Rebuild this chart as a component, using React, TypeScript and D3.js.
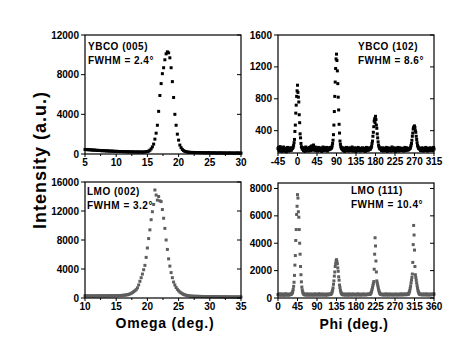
import * as d3 from 'd3'

// omega scans, sampled every 0.2 deg
const ybcoOmegaStart = 5
const ybcoOmegaStep = 0.2
const ybcoOmegaInt = [
  460, 440, 450, 420, 430, 410, 400, 390, 400, 370, 360, 370, 350, 340, 330, 340, 320, 310, 320, 300, 290, 300, 280, 280, 270,
  260, 270, 250, 250, 240, 250, 230, 240, 230, 220, 230, 220, 210, 220, 210, 200, 210, 200, 200, 210, 200, 190, 200, 210, 230,
  250, 290, 380, 520, 720, 1000, 1500, 2100, 2900, 4300, 5900, 7100, 8100, 8700, 9500, 10100, 10300, 10200, 9700, 8700,
  7300, 5700, 4000, 2900, 2000, 1400, 900, 640, 460, 340, 270, 230, 200, 180, 170,
  160, 150, 160, 150, 140, 150, 140, 130, 140, 130, 130, 120, 130, 120, 140, 120, 110, 120, 110, 120,
  110, 100, 110, 120, 100, 110, 100, 100, 110, 90, 100, 110, 100, 90, 100, 90, 100, 110, 90, 100, 90,
]

const lmoOmegaStart = 10
const lmoOmegaStep = 0.2
const lmoOmegaInt = [
  300, 290, 300, 280, 290, 300, 290, 280, 290, 300, 290, 300, 290, 300, 310, 300, 290, 300, 310, 300,
  310, 320, 310, 320, 310, 330, 320, 340, 330, 350, 360, 380, 400, 420, 450,
  500, 560, 640, 740, 870, 1000, 1150, 1400, 1800, 2300, 2800, 3300, 3900, 4500, 5600,
  6900, 8200, 9400, 10800, 11900, 12900, 14900, 14200, 13500, 14000, 13400, 13300, 12200, 11000, 9600,
  8000, 6700, 5400, 4400, 3500, 2800, 2200, 1800, 1450, 1200, 1000, 830, 700, 590, 500, 430, 380, 340, 310, 280, 260,
  250, 240, 230, 240, 220, 230, 210, 220, 200, 210, 200, 190, 200, 190, 180, 190, 180, 190, 170, 180,
  170, 180, 170, 160, 170, 160, 170, 160, 150, 160, 150, 160, 150, 140, 150, 140, 150, 140, 150, 140,
]

// phi scans, sampled every 1 deg
const ybcoPhiStart = -45
const ybcoPhiStep = 1
const ybcoPhiInt = [
  175, 190, 160, 145, 180, 200, 165, 150, 170, 140, 185, 160, 155, 195, 170, 145, 160, 180, 150, 135,
  175, 165, 190, 155, 145, 170, 160, 185, 150, 165, 175, 155, 180,
  175, 185, 195, 215, 250, 290, 390, 470, 620, 720, 830, 900, 970, 880, 820, 760, 600, 500, 360, 310, 240, 200, 190, 170, 180,
  165, 150, 185, 170, 140, 160, 195, 175, 150, 165, 180, 155, 145, 170, 190, 160, 175, 150, 200, 165,
  210, 180, 155, 170, 220, 185, 160, 175, 195, 150, 165, 180, 160, 145, 175, 190, 155, 170, 160, 185,
  150, 165, 175, 140, 160, 180, 195, 165, 150, 170, 185, 160, 175, 155, 190, 165, 145, 180, 170, 160,
  175, 185, 165, 190, 180,
  180, 190, 210, 240, 280, 350, 470, 640, 830, 1010, 1180, 1300, 1360, 1280, 1150, 990, 820, 660, 480, 370, 270, 230, 200, 185, 175,
  170, 160, 185, 150, 175, 165, 140, 180, 155, 170, 190, 160, 150, 175, 165, 145, 185, 170, 155, 160,
  180, 150, 170, 195, 160, 145, 175, 165, 150, 185, 160, 175, 140, 165, 180, 155, 170, 190, 150, 165,
  175, 160, 145, 180, 170, 155, 165, 185, 150, 170, 160, 180, 155, 140, 175, 165, 190, 150, 170, 160,
  175, 155, 185, 165, 170,
  170, 180, 190, 205, 240, 270, 330, 380, 450, 520, 550, 500, 580, 540, 470, 430, 360, 310, 260, 220, 200, 185, 175, 170, 180,
  165, 150, 175, 185, 160, 145, 170, 155, 180, 165, 150, 175, 190, 160, 140, 170, 185, 155, 165, 150,
  175, 160, 180, 145, 170, 195, 155, 165, 150, 175, 185, 160, 170, 140, 155, 180, 165, 150, 175, 190,
  160, 145, 170, 185, 155, 165, 175, 150, 160, 180, 170, 155, 145, 175, 165, 190, 160, 150, 170, 185,
  160, 175, 155, 165, 170,
  170, 175, 180, 195, 215, 240, 280, 330, 370, 420, 445, 430, 460, 440, 400, 380, 330, 290, 250, 215, 200, 185, 175, 180, 170,
  165, 150, 175, 160, 185, 155, 170, 145, 180, 165, 150, 175, 160, 190, 155, 170, 165, 145, 180, 160,
  175, 150, 165, 185, 160, 170, 155, 180, 165, 150, 175, 190, 170,
]

const lmoPhiStart = 0
const lmoPhiStep = 1
const lmoPhiInt = [
  260, 240, 280, 220, 250, 300, 230, 210, 270, 250, 220, 290, 240, 260, 200, 270, 250, 230, 310, 240,
  220, 260, 280, 230, 250, 210, 270, 240, 260, 290, 250,
  300, 330, 380, 470, 620, 850, 1150, 1650, 2400, 3100, 4200, 5000, 6100, 6700, 7550, 7300, 6300, 5900, 5000, 4000,
  3200, 2300, 1700, 1180, 800, 590, 440, 350, 300,
  270, 240, 260, 220, 280, 250, 230, 300, 240, 260, 210, 270, 250, 230, 290, 240, 220, 260, 280, 230,
  250, 270, 210, 260, 240, 300, 230, 250, 270, 220, 260, 240, 280, 230, 250, 310, 240, 220, 270, 250,
  230, 260, 290, 240, 220, 270, 250, 230, 280, 260, 240, 210, 270, 250, 230, 290, 260, 240, 270, 250,
  280, 260,
  290, 310, 360, 450, 580, 740, 1000, 1250, 1600, 1900, 2300, 2500, 2700, 2800, 2650, 2500, 2200, 1950, 1550, 1300,
  950, 760, 560, 440, 360, 310, 280,
  260, 240, 270, 230, 250, 290, 220, 260, 240, 280, 250, 230, 270, 210, 260, 300, 240, 250, 230, 270,
  260, 220, 280, 250, 240, 290, 230, 260, 250, 270, 240, 220, 260, 280, 230, 250, 300, 240, 260, 230,
  270, 250, 220, 260, 280, 240, 250, 230, 290, 260, 240, 270, 250, 230, 260, 280, 240, 260, 250, 270,
  290, 260, 280,
  260, 290, 330, 400, 500, 620, 760, 900, 1050, 1200, 2100, 3200, 4400, 3800, 2700, 1900, 1250, 1100, 950, 800,
  650, 520, 420, 340, 300, 270, 260,
  250, 270, 240, 230, 260, 280, 250, 220, 270, 240, 260, 300, 230, 250, 270, 240, 220, 260, 290, 250,
  230, 270, 250, 240, 280, 260, 220, 250, 270, 240, 260, 230, 290, 250, 240, 270, 260, 220, 250, 280,
  240, 260, 230, 270, 250, 300, 240, 260, 230, 270, 250, 280, 240, 260, 290, 250, 270, 240, 280, 260,
  270,
  260, 300, 350, 430, 540, 700, 880, 1100, 1300, 1500, 1750, 2600, 3900, 5300, 4600, 3500, 2300, 1700, 1500, 1300,
  1100, 900, 720, 560, 450, 370, 310, 280, 260,
  250, 270, 240, 260, 290, 230, 250, 270, 240, 280, 260, 230, 250, 300, 240, 260, 270, 220, 250, 280,
  240, 260, 230, 270, 250, 290, 240, 260, 250, 280, 270, 290,
]

// ticks
const ybcoOmegaTicks = [5, 10, 15, 20, 25, 30]
const lmoOmegaTicks = [10, 15, 20, 25, 30, 35]
const ybcoPhiTicks = [-45, 0, 45, 90, 135, 180, 225, 270, 315]
const lmoPhiTicks = [0, 45, 90, 135, 180, 225, 270, 315, 360]
const ybcoOmegaYTicks = [0, 4000, 8000, 12000]
const ybcoPhiYTicks = [400, 800, 1200, 1600]
const lmoOmegaYTicks = [0, 4000, 8000, 12000, 16000]
const lmoPhiYTicks = [0, 2000, 4000, 6000, 8000]

const FONT = '"Liberation Sans", Arial, Helvetica, sans-serif'

interface Panel {
  key: string
  left: number
  right: number
  top: number
  bottom: number
  xDomain: [number, number]
  yDomain: [number, number]
  xTicks: number[]
  yTicks: number[]
  minor: boolean
  start: number
  step: number
  values: number[]
  color: string
  title: string
  fwhm: string
  textX: number
  textY: number
}

const panels: Panel[] = [
  {
    key: 'a', left: 85, right: 241, top: 35, bottom: 154,
    xDomain: [5, 30], yDomain: [0, 12000], xTicks: ybcoOmegaTicks, yTicks: ybcoOmegaYTicks, minor: true,
    start: ybcoOmegaStart, step: ybcoOmegaStep, values: ybcoOmegaInt, color: '#000',
    title: 'YBCO (005)', fwhm: 'FWHM = 2.4°', textX: 88, textY: 50,
  },
  {
    key: 'b', left: 278, right: 434, top: 35, bottom: 153,
    xDomain: [-45, 315], yDomain: [120, 1600], xTicks: ybcoPhiTicks, yTicks: ybcoPhiYTicks, minor: false,
    start: ybcoPhiStart, step: ybcoPhiStep, values: ybcoPhiInt, color: '#000',
    title: 'YBCO (102)', fwhm: 'FWHM = 8.6°', textX: 358, textY: 50,
  },
  {
    key: 'c', left: 85, right: 241, top: 182, bottom: 298,
    xDomain: [10, 35], yDomain: [0, 16000], xTicks: lmoOmegaTicks, yTicks: lmoOmegaYTicks, minor: true,
    start: lmoOmegaStart, step: lmoOmegaStep, values: lmoOmegaInt, color: '#5e5e5e',
    title: 'LMO (002)', fwhm: 'FWHM = 3.2°', textX: 87, textY: 195,
  },
  {
    key: 'd', left: 278, right: 434, top: 183, bottom: 298,
    xDomain: [0, 360], yDomain: [0, 8400], xTicks: lmoPhiTicks, yTicks: lmoPhiYTicks, minor: false,
    start: lmoPhiStart, step: lmoPhiStep, values: lmoPhiInt, color: '#5e5e5e',
    title: 'LMO (111)', fwhm: 'FWHM = 10.4°', textX: 351, textY: 194,
  },
]

function PanelView({ p }: { p: Panel }) {
  const x = d3.scaleLinear().domain(p.xDomain).range([p.left, p.right])
  const y = d3.scaleLinear().domain(p.yDomain).range([p.bottom, p.top])
  const minors = p.minor ? p.xTicks.slice(1).map((t, i) => (t + p.xTicks[i]) / 2) : []
  return (
    <g>
      {p.values.map((v, i) => (
        <rect key={i} x={x(p.start + i * p.step) - 1.5} y={y(v) - 1.5} width={3} height={3} fill={p.color} />
      ))}
      <rect x={p.left} y={p.top} width={p.right - p.left} height={p.bottom - p.top} fill="none" stroke="#000" strokeWidth={1.2} />
      {p.yTicks.map(t => (
        <g key={'y' + t}>
          <line x1={p.left - 4} x2={p.left} y1={y(t)} y2={y(t)} stroke="#000" />
          <line x1={p.right - 4} x2={p.right} y1={y(t)} y2={y(t)} stroke="#000" />
          <text x={p.left - 6} y={y(t) + 3.5} textAnchor="end" fontSize={10} fontWeight="bold">{t}</text>
        </g>
      ))}
      {p.xTicks.map(t => (
        <g key={'x' + t}>
          <line x1={x(t)} x2={x(t)} y1={p.bottom} y2={p.bottom + 3} stroke="#000" />
          <text x={x(t)} y={p.bottom + 12} textAnchor="middle" fontSize={10} fontWeight="bold">{t}</text>
        </g>
      ))}
      {minors.map(t => (
        <line key={'m' + t} x1={x(t)} x2={x(t)} y1={p.bottom} y2={p.bottom + 2} stroke="#000" />
      ))}
      <text x={p.textX} y={p.textY} fontSize={10} fontWeight="bold" letterSpacing={0.5}>{p.title}</text>
      <text x={p.textX} y={p.textY + 14} fontSize={10} fontWeight="bold" letterSpacing={0.5}>{p.fwhm}</text>
    </g>
  )
}

export default function App() {
  return (
    <svg width={474} height={363} style={{ position: 'absolute', left: 0, top: 0, background: '#fff' }} fontFamily={FONT}>
      {panels.map(p => <PanelView key={p.key} p={p} />)}
      <text x={165} y={328} textAnchor="middle" fontSize={14} fontWeight="bold" letterSpacing={0.8}>Omega (deg.)</text>
      <text x={354} y={329} textAnchor="middle" fontSize={14} fontWeight="bold" letterSpacing={0.5}>Phi (deg.)</text>
      <text transform="translate(46,160) rotate(-90)" textAnchor="middle" fontSize={18} fontWeight="bold" letterSpacing={1}>Intensity (a.u.)</text>
    </svg>
  )
}
